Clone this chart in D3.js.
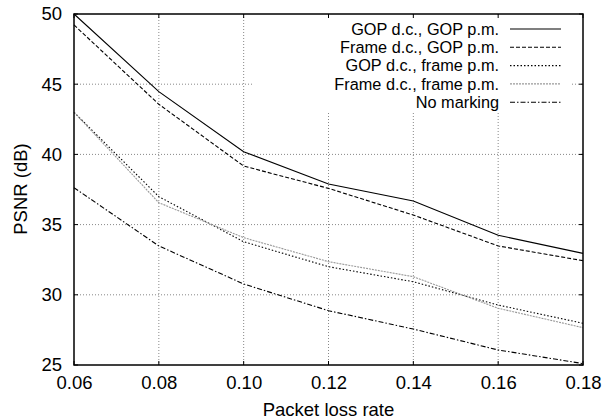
<!DOCTYPE html>
<html><head><meta charset="utf-8">
<script src="https://d3js.org/d3.v7.min.js"></script>
<style>body{margin:0;background:#fff}svg{display:block}text{font-family:"Liberation Sans",Arial,sans-serif;fill:#000}</style>
</head><body><svg id="c" width="604" height="419"></svg>
<script>
const xValues = [0.06, 0.08, 0.10, 0.12, 0.14, 0.16, 0.18];
const seriesNames = ["GOP d.c., GOP p.m.", "Frame d.c., GOP p.m.", "GOP d.c., frame p.m.", "Frame d.c., frame p.m.", "No marking"];
const gopGop = [50.0, 44.47, 40.19, 37.89, 36.68, 34.24, 32.95];
const frameGop = [49.22, 43.57, 39.17, 37.58, 35.68, 33.48, 32.43];
const gopFrame = [43.0, 36.99, 33.78, 32.0, 30.93, 29.27, 27.97];
const frameFrame = [43.0, 36.56, 34.07, 32.36, 31.29, 29.04, 27.66];
const noMarking = [37.63, 33.48, 30.77, 28.87, 27.56, 26.07, 25.1];
const xTicks = [0.06, 0.08, 0.10, 0.12, 0.14, 0.16, 0.18];
const yTicks = [25, 30, 35, 40, 45, 50];

const FS = 18.5, LFS = 16.3;
const svg = d3.select("#c");
const L = 74, R = 583, T = 14, B = 365;
const x = d3.scaleLinear().domain([0.06, 0.18]).range([L, R]);
const y = d3.scaleLinear().domain([25, 50]).range([B, T]);

const styles = [
  {stroke: "#000", dash: null, w: 1.1},
  {stroke: "#000", dash: "4,2", w: 1.1},
  {stroke: "#000", dash: "1.5,2", w: 1.1},
  {stroke: "#999", dash: "2,1", w: 1.1},
  {stroke: "#000", dash: "5,2,1.5,2", w: 1.1}
];
const data = [gopGop, frameGop, gopFrame, frameFrame, noMarking];

// grid
const g = svg.append("g");
g.selectAll(".gx").data(xTicks.slice(1, -1)).enter().append("line")
  .attr("x1", d => x(d)).attr("x2", d => x(d)).attr("y1", T).attr("y2", B)
  .attr("stroke", "#888").attr("stroke-width", 1).attr("stroke-dasharray", "1,2");
g.selectAll(".gy").data(yTicks.slice(1, -1)).enter().append("line")
  .attr("x1", L).attr("x2", R).attr("y1", d => y(d)).attr("y2", d => y(d))
  .attr("stroke", "#888").attr("stroke-width", 1).attr("stroke-dasharray", "1,2");

// legend background box (hides grid)
svg.append("rect").attr("x", 252).attr("y", T + 1).attr("width", 571 - 252).attr("height", 112 - T - 1).attr("fill", "#fff");

// axes
const xAxis = d3.axisBottom(x).tickValues(xTicks).tickFormat(d3.format(".2f")).tickSize(0).tickPadding(11);
svg.append("g").attr("transform", `translate(0,${B})`).call(xAxis)
  .call(a => a.select(".domain").remove())
  .selectAll("text").attr("font-size", FS).attr("font-family", '"Liberation Sans",Arial,sans-serif');
const yAxis = d3.axisLeft(y).tickValues(yTicks).tickFormat(d3.format("d")).tickSize(0).tickPadding(12);
svg.append("g").attr("transform", `translate(${L},0)`).call(yAxis)
  .call(a => a.select(".domain").remove())
  .selectAll("text").attr("font-size", FS).attr("font-family", '"Liberation Sans",Arial,sans-serif');

// inward tick marks on all sides
const tk = 4;
xTicks.forEach(v => {
  svg.append("line").attr("x1", x(v)).attr("x2", x(v)).attr("y1", B).attr("y2", B - tk).attr("stroke", "#000");
  svg.append("line").attr("x1", x(v)).attr("x2", x(v)).attr("y1", T).attr("y2", T + tk).attr("stroke", "#000");
});
yTicks.forEach(v => {
  svg.append("line").attr("x1", L).attr("x2", L + tk).attr("y1", y(v)).attr("y2", y(v)).attr("stroke", "#000");
  svg.append("line").attr("x1", R).attr("x2", R - tk).attr("y1", y(v)).attr("y2", y(v)).attr("stroke", "#000");
});

// series
const line = d3.line().x((d, i) => x(xValues[i])).y(d => y(d));
data.forEach((s, i) => {
  svg.append("path").datum(s).attr("d", line).attr("fill", "none")
    .attr("stroke", styles[i].stroke).attr("stroke-width", styles[i].w)
    .attr("stroke-dasharray", styles[i].dash);
});

// frame
svg.append("rect").attr("x", L).attr("y", T).attr("width", R - L).attr("height", B - T)
  .attr("fill", "none").attr("stroke", "#000").attr("stroke-width", 1.5);

// legend
const leg = svg.append("g");
seriesNames.forEach((n, i) => {
  const cy = 29 + i * 18.3;
  leg.append("text").attr("x", 499).attr("y", cy).attr("dy", "0.35em").attr("text-anchor", "end")
    .attr("font-size", LFS).text(n);
  leg.append("line").attr("x1", 510).attr("x2", 561).attr("y1", cy).attr("y2", cy)
    .attr("stroke", styles[i].stroke).attr("stroke-width", styles[i].w).attr("stroke-dasharray", styles[i].dash);
});

// axis titles
svg.append("text").attr("x", (L + R) / 2).attr("y", 416).attr("text-anchor", "middle").attr("font-size", FS).text("Packet loss rate");
svg.append("text").attr("transform", "translate(27,189) rotate(-90)").attr("text-anchor", "middle").attr("font-size", FS).text("PSNR (dB)");
</script></body></html>
